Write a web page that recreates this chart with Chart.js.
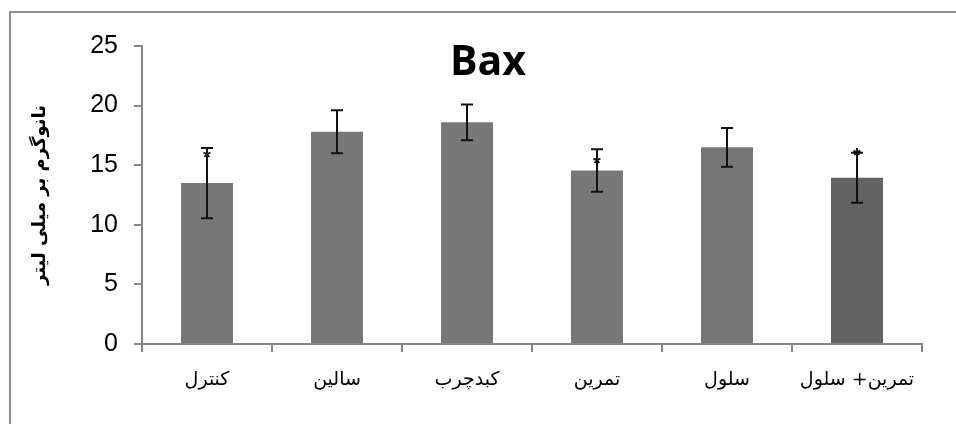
<!DOCTYPE html>
<html>
<head>
<meta charset="utf-8">
<script src="https://cdn.jsdelivr.net/npm/chart.js@4"></script>
<style>
  body { margin: 0; background: #fff; }
  #frame { position: absolute; left: 9px; top: 11px; right: -5px; bottom: -5px; border-top: 2px solid #8f8f8f; border-left: 2px solid #8f8f8f; }
  #wrap { position: absolute; left: 0; top: 0; width: 956px; height: 424px; }
</style>
</head>
<body>
<div id="frame"></div>
<div id="wrap"><canvas id="grafico" width="956" height="424"></canvas></div>
<script>
const gruposLabels = ["کنترل", "سالین", "کبدچرب", "تمرین", "سلول", "تمرین+ سلول"];
const valoresBax = [13.5, 17.8, 18.6, 14.55, 16.5, 13.95];
const erroresBax = [2.95, 1.8, 1.5, 1.78, 1.63, 2.1];
const asteriscos = [15.9, null, null, 15.4, null, 16.05];
const coloresBarras = ["#787878", "#787878", "#787878", "#787878", "#777777", "#636363"];
const ticksY = [0, 5, 10, 15, 20, 25];

const pluginExtras = {
    id: "extras",
    afterDatasetsDraw(chart) {
        const ctx = chart.ctx;
        const y = chart.scales.y;
        const meta = chart.getDatasetMeta(0);
        ctx.save();
        ctx.strokeStyle = "#111";
        ctx.lineWidth = 2;
        meta.data.forEach((bar, i) => {
            const v = valoresBax[i];
            const e = erroresBax[i];
            const yTop = y.getPixelForValue(v + e);
            const yBot = y.getPixelForValue(v - e);
            ctx.beginPath();
            ctx.moveTo(bar.x, yTop);
            ctx.lineTo(bar.x, yBot);
            ctx.moveTo(bar.x - 6, yTop);
            ctx.lineTo(bar.x + 6, yTop);
            ctx.moveTo(bar.x - 6, yBot);
            ctx.lineTo(bar.x + 6, yBot);
            ctx.stroke();
            if (asteriscos[i] !== null) {
                ctx.fillStyle = "#111";
                ctx.font = "bold 20px 'Liberation Sans'";
                ctx.textAlign = "center";
                ctx.textBaseline = "middle";
                ctx.fillText("*", bar.x, y.getPixelForValue(asteriscos[i]) + 4);
            }
        });
        // titulo
        ctx.fillStyle = "#000";
        ctx.font = "bold 41px 'Open Sans'";
        ctx.textAlign = "center";
        ctx.textBaseline = "middle";
        ctx.fillText("Bax", 488, 63);
        ctx.restore();
    }
};

const ctx = document.getElementById("grafico").getContext("2d");
new Chart(ctx, {
    type: "bar",
    data: {
        labels: gruposLabels,
        datasets: [{
            data: valoresBax,
            backgroundColor: coloresBarras,
            borderWidth: 0,
            categoryPercentage: 1,
            barPercentage: 0.4
        }]
    },
    options: {
        responsive: false,
        animation: false,
        layout: { padding: { top: 46, right: 34, left: 0, bottom: 0 } },
        plugins: { legend: { display: false }, tooltip: { enabled: false } },
        scales: {
            x: {
                grid: { display: true, offset: true, drawOnChartArea: false, tickLength: 8, color: "#868686", lineWidth: 2 },
                border: { color: "#868686", width: 2 },
                ticks: { color: "#000", font: { family: "'DejaVu Serif', 'DejaVu Sans'", size: 19 }, padding: 17 },
                afterFit(scale) { scale.height = 80; }
            },
            y: {
                min: 0,
                max: 25,
                afterBuildTicks(scale) { scale.ticks = ticksY.map(v => ({ value: v })); },
                grid: { drawOnChartArea: false, tickLength: 8, color: "#868686", lineWidth: 2 },
                border: { color: "#868686", width: 2 },
                ticks: { color: "#000", font: { family: "'Liberation Sans'", size: 25 }, padding: 16 },
                title: {
                    display: true,
                    text: "نانوگرم بر میلی لیتر",
                    color: "#000",
                    font: { family: "'DejaVu Sans'", size: 18, weight: "bold" },
                    padding: { top: 30, bottom: 0 }
                },
                afterFit(scale) { scale.width = 142; }
            }
        }
    },
    plugins: [pluginExtras]
});
</script>
</body>
</html>
